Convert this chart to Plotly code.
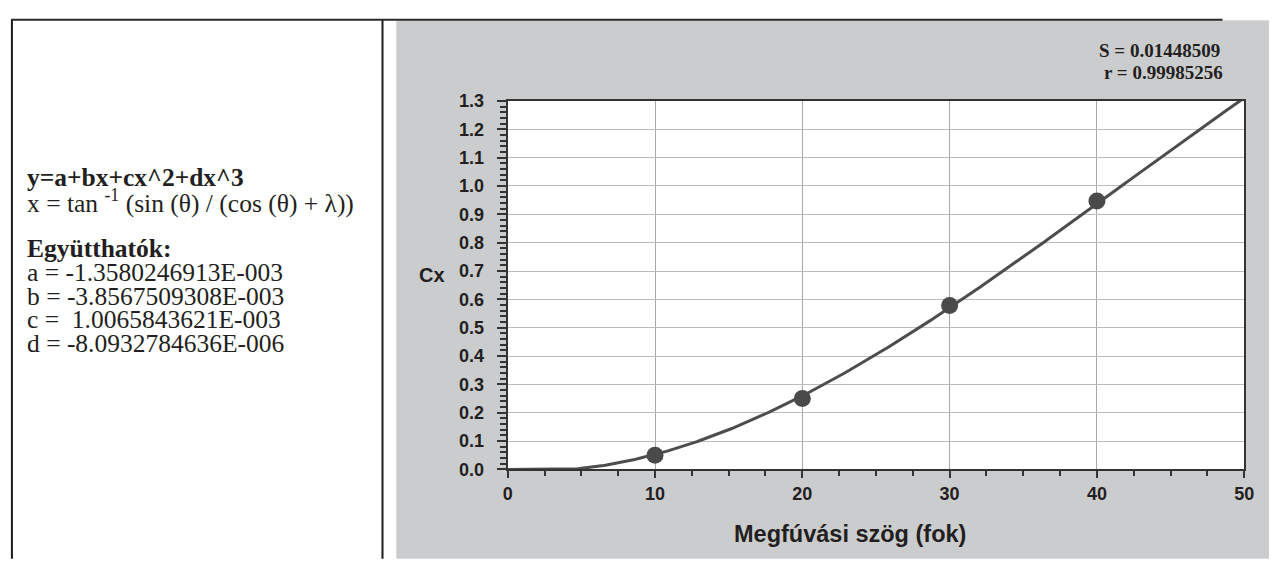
import numpy as np
import plotly.graph_objects as go

W, H = 1274, 564

# Measured points: angle of attack (deg) vs Cx
angles = [10, 20, 30, 40]
cx_values = [0.0497, 0.2505, 0.578, 0.947]

# Fitted cubic coefficients y = a + b*x + c*x^2 + d*x^3
coef_a = -1.3580246913e-003
coef_b = -3.8567509308e-003
coef_c = 1.0065843621e-003
coef_d = -8.0932784636e-006

fit_s = "0.01448509"
fit_r = "0.99985256"

x_ticks = [0, 10, 20, 30, 40, 50]
y_ticks = [round(0.1 * i, 1) for i in range(14)]

left_lines = [
    ("<b>y=a+bx+cx^2+dx^3</b>", 174),
    ("x = tan <sup>-1</sup> (sin (θ) / (cos (θ) + λ))", 199),
    ("<b>Együtthatók:</b>", 247),
    ("a = -1.3580246913E-003", 272),
    ("b = -3.8567509308E-003", 297),
    ("c =  1.0065843621E-003", 321),
    ("d = -8.0932784636E-006", 346),
]


def px(x):
    return x / W


def py(y):
    return 1 - y / H


theta = np.linspace(0, 50, 401)
fit_curve = coef_a + coef_b * theta + coef_c * theta**2 + coef_d * theta**3
fit_curve = np.maximum(fit_curve, 0.0)

fig = go.Figure()
fig.add_trace(go.Scatter(x=theta, y=fit_curve, mode="lines",
                         line=dict(color="#4d4d4d", width=3),
                         hoverinfo="skip", showlegend=False))
fig.add_trace(go.Scatter(x=angles, y=cx_values, mode="markers",
                         marker=dict(color="#4a4a4a", size=17),
                         showlegend=False, cliponaxis=False))

plot_x0, plot_x1 = 508.7, 1254
plot_y0, plot_y1 = 94.3, 476.3

tick_font = dict(family="Liberation Sans, Arial", size=18, color="#231f20", weight="bold")

fig.update_layout(
    width=W, height=H,
    margin=dict(l=0, r=0, t=0, b=0),
    paper_bgcolor="white",
    plot_bgcolor="white",
    xaxis=dict(
        domain=[px(plot_x0), px(plot_x1)],
        range=[0, 50], tickvals=x_ticks, ticktext=[str(v) for v in x_ticks],
        ticks="outside", ticklen=7, tickwidth=1.5, tickcolor="#333",
        showline=True, linecolor="#333", linewidth=2, mirror=True,
        showgrid=True, gridcolor="#a8a8a8", gridwidth=1,
        zeroline=False, tickfont=tick_font, ticklabelstandoff=0,
        minor=dict(dtick=2.5, ticks="outside", ticklen=5, tickwidth=1.5,
                   tickcolor="#333", showgrid=False),
    ),
    yaxis=dict(
        domain=[py(plot_y1), py(plot_y0)],
        range=[0, 1.3], tickvals=y_ticks, ticktext=[f"{v:.1f}" for v in y_ticks],
        ticks="outside", ticklen=9, tickwidth=1.5, tickcolor="#333",
        showline=True, linecolor="#333", linewidth=2, mirror=True,
        showgrid=True, gridcolor="#bcbcbc", gridwidth=1,
        zeroline=False, tickfont=tick_font, ticklabelstandoff=9,
        minor=dict(dtick=0.02, ticks="outside", ticklen=6, tickwidth=1.5,
                   tickcolor="#333", showgrid=False),
    ),
)

shapes = [
    # grey chart background
    dict(type="rect", xref="paper", yref="paper", layer="below",
         x0=px(396), x1=px(W + 5), y0=py(H + 5), y1=py(10.5),
         fillcolor="#cbcccd", line=dict(width=0)),
    # white plotting area
    dict(type="rect", xref="paper", yref="paper", layer="below",
         x0=px(plot_x0), x1=px(plot_x1), y0=py(plot_y1), y1=py(plot_y0),
         fillcolor="white", line=dict(width=0)),
    # table frame on the left
    dict(type="line", xref="paper", yref="paper", x0=px(7), x1=px(7),
         y0=py(10), y1=py(H + 5), line=dict(color="#1a1a1a", width=2)),
    dict(type="line", xref="paper", yref="paper", x0=px(382), x1=px(382),
         y0=py(10), y1=py(H + 5), line=dict(color="#1a1a1a", width=2)),
    dict(type="line", xref="paper", yref="paper", x0=px(6), x1=px(1232),
         y0=py(10), y1=py(10), line=dict(color="#2a2a2a", width=2)),
]

annotations = []
for text, yc in left_lines:
    annotations.append(dict(
        text=text, xref="paper", yref="paper", x=px(20), y=py(yc),
        xanchor="left", yanchor="middle", showarrow=False,
        font=dict(family="Liberation Serif, Times New Roman", size=25.5, color="#231f20"),
    ))

annotations += [
    dict(text=f"<b>S = {fit_s}</b>", xref="paper", yref="paper", x=px(1232), y=py(42),
         xanchor="right", yanchor="middle", showarrow=False,
         font=dict(family="Liberation Serif, Times New Roman", size=19, color="#231f20")),
    dict(text=f"<b>r = {fit_r}</b>", xref="paper", yref="paper", x=px(1235), y=py(65),
         xanchor="right", yanchor="middle", showarrow=False,
         font=dict(family="Liberation Serif, Times New Roman", size=19, color="#231f20")),
    dict(text="<b>Cx</b>", xref="paper", yref="paper", x=px(447), y=py(275),
         xanchor="right", yanchor="middle", showarrow=False,
         font=dict(family="Liberation Sans, Arial", size=20, color="#231f20")),
    dict(text="<b>Megfúvási szög (fok)</b>", xref="paper", yref="paper", x=px(855), y=py(543),
         xanchor="center", yanchor="middle", showarrow=False,
         font=dict(family="Liberation Sans, Arial", size=23.5, color="#231f20")),
]

fig.update_layout(shapes=shapes, annotations=annotations)
fig.write_html("out.html")
